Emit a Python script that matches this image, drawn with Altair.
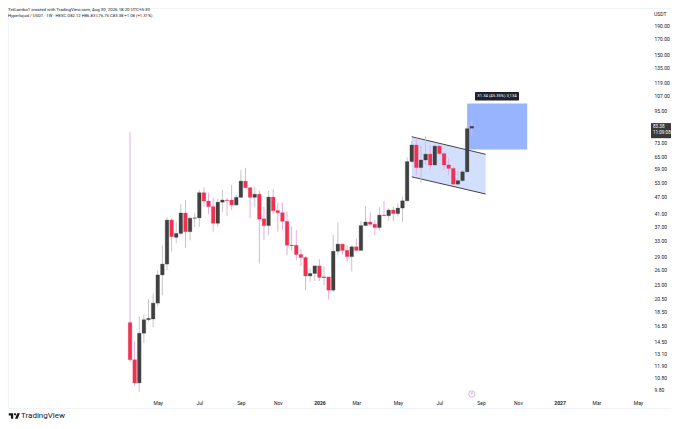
import pandas as pd
import altair as alt

# weekly candles
opens = [16.9, 12.5, 10.35, 15.5, 17.3, 17.4, 19.8, 24.9, 27.2, 38.9, 33.8, 34.9, 41.2, 35.4, 39.5,
         39.6, 48.6, 45.4, 43.4, 37.9, 45.0, 45.8, 45.8, 44.0, 46.8, 53.4, 50.6, 46.8, 48.0, 39.3,
         37.2, 46.9, 42.0, 41.3, 38.5, 31.6, 31.7, 29.4, 28.7, 24.7, 25.2, 26.8, 24.4, 24.5, 22.0,
         30.2, 32.0, 30.4, 28.9, 31.3, 30.4, 37.2, 38.3, 37.6, 36.6, 40.5, 40.3, 42.2, 41.0, 42.9,
         45.5, 62.6, 71.6, 59.6, 63.4, 66.5, 60.9, 71.0, 66.8, 60.9, 59.2, 52.1, 53.6, 57.6, 82.12]
highs = [79.6, 14.5, 17.8, 18.0, 20.4, 21.4, 25.9, 31.7, 39.8, 39.5, 38.4, 44.3, 45.8, 40.0, 41.2,
         49.7, 50.7, 48.6, 46.6, 46.2, 49.7, 46.6, 51.7, 47.7, 58.4, 59.5, 51.0, 51.0, 49.3, 43.3,
         49.3, 50.0, 44.8, 44.8, 41.6, 36.9, 35.9, 30.7, 29.0, 26.2, 26.8, 28.3, 26.7, 24.5, 34.6,
         38.2, 32.0, 31.7, 31.7, 33.5, 38.5, 43.6, 41.4, 38.9, 43.2, 45.5, 42.8, 43.4, 44.6, 47.1,
         64.7, 74.0, 76.0, 71.6, 76.8, 71.6, 71.6, 71.6, 67.8, 64.5, 60.0, 57.9, 58.4, 83.5, 86.83]
lows = [12.3, 10.1, 9.6, 14.3, 17.1, 16.3, 19.3, 21.1, 25.9, 30.1, 32.2, 34.4, 31.0, 33.0, 36.8,
        36.8, 43.3, 40.8, 35.4, 36.8, 41.6, 40.2, 42.2, 43.6, 46.5, 50.4, 39.5, 43.3, 27.4, 33.0,
        34.4, 41.0, 35.4, 35.9, 29.2, 30.3, 28.1, 26.8, 22.0, 23.6, 23.7, 23.7, 22.9, 20.4, 21.7,
        29.2, 29.4, 27.7, 25.6, 30.4, 30.4, 37.0, 37.0, 34.4, 35.6, 40.2, 38.7, 38.5, 40.0, 38.3,
        45.3, 62.0, 56.0, 52.5, 60.9, 58.4, 60.6, 66.0, 58.4, 56.1, 51.7, 51.7, 53.2, 57.0, 76.76]
closes = [12.5, 10.35, 15.5, 17.3, 17.5, 19.8, 24.9, 27.2, 38.9, 34.0, 34.9, 41.2, 35.4, 39.5, 39.6,
          48.6, 45.4, 43.4, 37.9, 45.0, 45.8, 45.6, 44.0, 46.8, 53.4, 50.6, 46.8, 48.0, 39.2, 37.2,
          46.9, 42.0, 41.3, 38.5, 31.7, 31.7, 29.4, 28.7, 24.7, 25.2, 26.8, 24.4, 24.5, 22.0, 30.2,
          32.0, 30.4, 28.9, 31.3, 30.4, 37.2, 38.3, 37.6, 36.6, 40.5, 40.3, 42.2, 41.0, 42.9, 45.5,
          62.6, 71.6, 59.6, 63.4, 66.5, 60.9, 71.0, 66.8, 60.9, 59.2, 52.1, 53.6, 57.6, 81.8, 83.38]

price_ticks = [190, 170, 150, 135, 119, 107, 95, 73, 65, 59, 53, 47, 41, 37, 33, 29, 26, 23,
               20.5, 18.5, 16.5, 14.5, 13.1, 11.9, 10.8, 9.8]
time_ticks = ['2025-05-05', '2025-07-07', '2025-09-08', '2025-11-03', '2026-01-05', '2026-03-02',
              '2026-05-04', '2026-07-06', '2026-09-07', '2026-11-02', '2027-01-04', '2027-03-01', '2027-05-03']

# falling channel
channel_dates = ['2026-05-25', '2026-09-14']
channel_upper = [76.6, 66.4]
channel_lower = [55.3, 48.1]

# measure tool box
measure_dates = ['2026-08-17', '2026-11-16']
measure_prices = [69.1, 100.44]

candles = pd.DataFrame({'open': opens, 'high': highs, 'low': lows, 'close': closes})
candles['date'] = pd.date_range('2025-03-24', periods=len(opens), freq='7D').strftime('%Y-%m-%d')

channel = pd.DataFrame({'date': channel_dates, 'upper': channel_upper, 'lower': channel_lower})
measure = pd.DataFrame({'start': [measure_dates[0]], 'end': [measure_dates[1]],
                        'low': [measure_prices[0]], 'high': [measure_prices[1]]})


def ms(day):
    return int(pd.Timestamp(day, tz='UTC').timestamp() * 1000)


FONT = 'Roboto'
INK = '#131722'
RED = '#f23150'
DARK = '#404040'

# padding=0: bar marks would otherwise pad the time scale
x_scale = alt.Scale(type='utc', domain=[ms('2024-09-20'), ms('2027-06-22')], padding=0)
y_scale = alt.Scale(type='log', domain=[8.44, 218.2], nice=False)

x_axis = alt.Axis(values=[ms(d) for d in time_ticks], title=None, grid=False, domain=False, ticks=False,
                  offset=-8, labelPadding=0, labelFont=FONT, labelFontSize=5, labelColor=INK,
                  labelOverlap=False, labelAngle=0,
                  labelExpr="utcmonth(datum.value) == 0 ? utcFormat(datum.value, '%Y') : utcFormat(datum.value, '%b')",
                  labelFontWeight=alt.condition('utcmonth(datum.value) == 0', alt.value('bold'), alt.value('normal')))
y_axis = alt.Axis(orient='right', values=price_ticks, format='.2f', title=None, grid=False, domain=False,
                  ticks=False, offset=-17, labelPadding=0, labelFont=FONT, labelFontSize=5, labelColor=INK,
                  labelOverlap=False, labelAlign='left')

up = 'datum.close >= datum.open'

wicks = alt.Chart(candles).mark_rule(strokeWidth=1).encode(
    x=alt.X('date:T', scale=x_scale),
    y=alt.Y('low:Q', scale=y_scale),
    y2='high:Q',
    color=alt.condition(up, alt.value('#c6c6c6'), alt.value('#e2aeea'))
)
bodies = alt.Chart(candles).mark_bar(size=3.6, strokeWidth=0.3).encode(
    x=alt.X('date:T', scale=x_scale),
    y=alt.Y('open:Q', scale=y_scale),
    y2='close:Q',
    color=alt.condition(up, alt.value(DARK), alt.value(RED)),
    stroke=alt.condition(up, alt.value(DARK), alt.value(RED))
)

channel_fill = alt.Chart(channel).mark_area(color='#d3dfff').encode(
    x=alt.X('date:T', scale=x_scale),
    y=alt.Y('upper:Q', scale=y_scale),
    y2='lower:Q'
)
channel_top = alt.Chart(channel).mark_line(color='#444444', strokeWidth=1).encode(
    x=alt.X('date:T', scale=x_scale),
    y=alt.Y('upper:Q', scale=y_scale)
)
channel_bottom = alt.Chart(channel).mark_line(color='#444444', strokeWidth=1).encode(
    x=alt.X('date:T', scale=x_scale),
    y=alt.Y('lower:Q', scale=y_scale)
)

# first layer carries both axes for the whole chart
measure_box = alt.Chart(measure).mark_rect(color='#99b4ff').encode(
    x=alt.X('start:T', scale=x_scale, axis=x_axis),
    x2='end:T',
    y=alt.Y('low:Q', scale=y_scale, axis=y_axis),
    y2='high:Q'
)
measure_tag = alt.Chart(pd.DataFrame({'p': [110.3], 'p2': [102.9]})).mark_rect(color='#1e222d', cornerRadius=1).encode(
    x=alt.value(467), x2=alt.value(511),
    y=alt.Y('p:Q', scale=y_scale), y2='p2:Q'
)
measure_text = alt.Chart(pd.DataFrame({'t': ['31.34 (45.35%) 3,134']})).mark_text(
    font=FONT, fontSize=4.2, color='white', align='center', baseline='middle'
).encode(x=alt.value(489), y=alt.value(88.4), text='t:N')

price_tag = alt.Chart(pd.DataFrame({'p': [85.6], 'p2': [75.7]})).mark_rect(color='#3a3a3a').encode(
    x=alt.value(643), x2=alt.value(663),
    y=alt.Y('p:Q', scale=y_scale), y2='p2:Q'
)


def label(txt, x, y, size=5, color=INK, align='left', weight='normal'):
    return alt.Chart(pd.DataFrame({'t': [txt]})).mark_text(
        font=FONT, fontSize=size, color=color, align=align, baseline='middle', fontWeight=weight
    ).encode(x=alt.value(x), y=alt.value(y), text='t:N')


marker = alt.Chart(pd.DataFrame({'date': ['2026-08-24'], 'p': [9.46]})).mark_point(
    filled=False, color='#cf8fe0', size=40, strokeWidth=1
).encode(
    x=alt.X('date:T', scale=x_scale),
    y=alt.Y('p:Q', scale=y_scale)
)

logo = alt.Chart(pd.DataFrame({'k': [1]})).mark_point(
    shape='M14 6H2v6h6v9h6V6Zm12 15h-7l6-15h7l-6 15Zm-7-9a3 3 0 1 0 0-6 3 3 0 0 0 0 6Z',
    filled=True, color=INK, opacity=1, size=0.55
).encode(x=alt.value(0), y=alt.value(403))

chart = alt.layer(
    measure_box, channel_fill, channel_top, channel_bottom, wicks, bodies, marker,
    measure_tag, measure_text, price_tag,
    label('83.38', 645, 119, size=4.6, color='white'),
    label('11:09:08', 645, 124.7, size=4.6, color='white'),
    label('USDT', 646, 6),
    label('P', 464, 386, size=4, color='#cf8fe0', align='center'),
    label('TetLambo1 created with TradingView.com, Aug 30, 2026 18:20 UTC+5:30', 0, 2.2, size=4.4),
    label('Hyperliquid / USDT · 1W · HEXC O82.12 H86.83 L76.76 C83.38 +1.08 (+1.31%)', 0, 7.6, size=4.2),
    logo,
    label('TradingView', 13, 408, size=8)
).properties(
    width=663,
    height=400,
    padding={'left': 0, 'top': 0, 'right': 0, 'bottom': 13},
    autosize=alt.AutoSizeParams(type='none'),
    background='white'
).configure_view(stroke='#f0f3fa')

chart.save("out.html", embed_options={"renderer": "svg", "actions": False})
